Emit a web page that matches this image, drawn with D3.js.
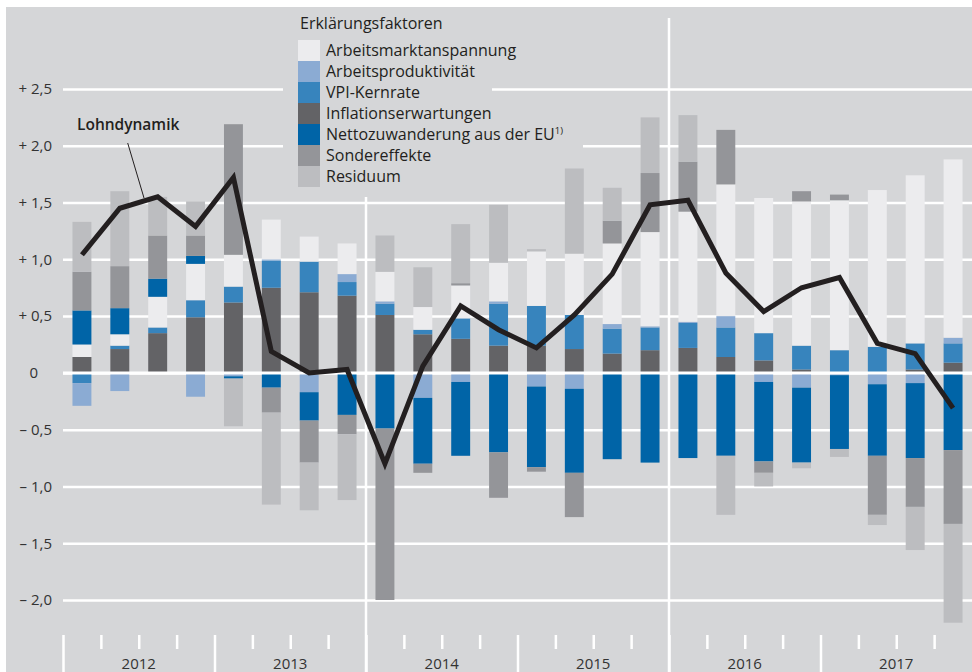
<!DOCTYPE html>
<html>
<head>
<meta charset="utf-8">
<script src="https://cdnjs.cloudflare.com/ajax/libs/d3/7.8.5/d3.min.js"></script>
<style>
  body { margin: 0; background: #fff; }
  svg text { font-family: "Open Sans", "Noto Sans", sans-serif; }
</style>
</head>
<body>
<div id="chart"></div>
<script>
// Data (quarterly contributions, percentage points)
var quarters = ["2012Q1","2012Q2","2012Q3","2012Q4","2013Q1","2013Q2","2013Q3","2013Q4",
  "2014Q1","2014Q2","2014Q3","2014Q4","2015Q1","2015Q2","2015Q3","2015Q4",
  "2016Q1","2016Q2","2016Q3","2016Q4","2017Q1","2017Q2","2017Q3","2017Q4"];
var years = ["2012","2013","2014","2015","2016","2017"];

var inflation    = [0.14, 0.21, 0.35, 0.49, 0.62, 0.75, 0.71, 0.68, 0.51, 0.34, 0.30, 0.24, 0.24, 0.21, 0.17, 0.20, 0.22, 0.14, 0.11, 0.03, 0, 0, 0.03, 0.09];
var vpi          = [-0.09, 0.03, 0.05, 0.15, 0.14, 0.24, 0.27, 0.12, 0.10, 0.04, 0.18, 0.37, 0.35, 0.30, 0.22, 0.20, 0.22, 0.26, 0.24, 0.21, 0.20, 0.23, 0.23, 0.17];
var produktiv    = [-0.20, -0.16, 0, -0.21, -0.03, 0.01, -0.17, 0.07, 0.02, -0.22, -0.08, 0.02, -0.12, -0.14, 0.04, 0.01, 0.01, 0.10, -0.08, -0.13, -0.02, -0.10, -0.09, 0.05];
var arbeitsmarkt = [0.11, 0.10, 0.27, 0.32, 0.28, 0.35, 0.22, 0.27, 0.26, 0.20, 0.29, 0.34, 0.48, 0.54, 0.71, 0.83, 0.97, 1.16, 1.19, 1.27, 1.32, 1.38, 1.48, 1.57];
var netto        = [0.30, 0.23, 0.16, 0.07, -0.02, -0.13, -0.25, -0.37, -0.49, -0.58, -0.65, -0.70, -0.71, -0.74, -0.76, -0.79, -0.75, -0.73, -0.70, -0.66, -0.65, -0.63, -0.66, -0.68];
var sonder       = [0.34, 0.37, 0.38, 0.18, 1.15, -0.22, -0.37, -0.17, -1.51, -0.08, 0.02, -0.40, -0.04, -0.39, 0.20, 0.52, 0.44, 0.48, -0.10, 0.09, 0.05, -0.52, -0.43, -0.65];
var residuum     = [0.44, 0.66, 0.34, 0.30, -0.42, -0.81, -0.42, -0.58, 0.32, 0.35, 0.52, 0.51, 0.02, 0.75, 0.29, 0.49, 0.41, -0.52, -0.12, -0.05, -0.07, -0.09, -0.38, -0.87];
var lohndynamik  = [1.04, 1.45, 1.55, 1.29, 1.72, 0.19, 0.0, 0.03, -0.80, 0.06, 0.59, 0.38, 0.22, 0.51, 0.87, 1.48, 1.52, 0.88, 0.54, 0.75, 0.84, 0.26, 0.17, -0.31];

var yTicks = [-2, -1.5, -1, -0.5, 0, 0.5, 1, 1.5, 2, 2.5];

// stacking order (from zero outward)
var series = [
  {key: "infl",  name: "Inflationserwartungen",       values: inflation,    color: "#636366"},
  {key: "vpi",   name: "VPI-Kernrate",                values: vpi,          color: "#3784bd"},
  {key: "prod",  name: "Arbeitsproduktivität",        values: produktiv,    color: "#8babd3"},
  {key: "markt", name: "Arbeitsmarktanspannung",      values: arbeitsmarkt, color: "#ececee"},
  {key: "netto", name: "Nettozuwanderung aus der EU", values: netto,        color: "#0064a7"},
  {key: "sond",  name: "Sondereffekte",               values: sonder,       color: "#949599"},
  {key: "res",   name: "Residuum",                    values: residuum,     color: "#bcbdc0"}
];
// legend order
var legendKeys = ["markt", "prod", "vpi", "infl", "netto", "sond", "res"];

var svgWidth = 972;
var svgHeight = 672;
var panelColor = "#d5d6d8";

var svg = d3.select("#chart")
  .append("svg")
  .attr("width", svgWidth)
  .attr("height", svgHeight);

// grey panel
svg.append("rect")
  .attr("x", 6).attr("y", 7)
  .attr("width", svgWidth - 6).attr("height", svgHeight - 7)
  .attr("fill", panelColor);

// Scales
var x = d3.scaleBand()
  .domain(quarters)
  .range([63, 972])
  .paddingInner(0.5)
  .paddingOuter(0.25);

var xq = d3.scaleLinear().domain([0, quarters.length]).range([63, 972]);

var y = d3.scaleLinear()
  .domain([-2, 2.5])
  .range([600, 89]);

function fmt(v) {
  if (v === 0) return "0";
  return (v > 0 ? "+ " : "\u2013 ") + Math.abs(v).toFixed(1).replace(".", ",");
}

// gridlines + y labels
var yAxis = svg.append("g")
  .attr("transform", "translate(63,0)")
  .call(d3.axisLeft(y).tickValues(yTicks).tickSize(-(972 - 63)).tickPadding(11).tickFormat(fmt));
yAxis.select(".domain").remove();
yAxis.selectAll("line").attr("stroke", "#fff").attr("stroke-width", 2.5);
yAxis.selectAll("text")
  .attr("fill", "#333")
  .style("font-size", "15px")
  .attr("dx", d => d === 0 ? -14 : 0);

// vertical separators (2014, 2016)
svg.selectAll("line.sep")
  .data([8, 16])
  .enter()
  .append("line")
  .attr("class", "sep")
  .attr("x1", d => xq(d)).attr("x2", d => xq(d))
  .attr("y1", 18).attr("y2", svgHeight)
  .attr("stroke", "#fff").attr("stroke-width", 2.5);

// bottom ticks
var xAxis = svg.append("g")
  .attr("transform", "translate(0,635)")
  .call(d3.axisBottom(xq).tickValues(d3.range(0, 24)).tickSize(14).tickFormat(""));
xAxis.select(".domain").remove();
xAxis.selectAll("line")
  .attr("stroke", "#fff").attr("stroke-width", 2.5)
  .attr("y2", d => d % 4 === 0 ? 40 : 14);

svg.selectAll("text.year")
  .data(years)
  .enter()
  .append("text")
  .attr("class", "year")
  .attr("x", (d, i) => xq(i * 4 + 2))
  .attr("y", 669)
  .attr("text-anchor", "middle")
  .attr("fill", "#333")
  .style("font-size", "15px")
  .text(d => d);

// legend occluders (legend sits on panel colour)
svg.append("rect").attr("x", 283).attr("y", 8).attr("width", 209).attr("height", 189).attr("fill", panelColor);
svg.append("rect").attr("x", 283).attr("y", 110).attr("width", 300).attr("height", 87).attr("fill", panelColor);

// Stacked bars
var rows = quarters.map(function(q, i) {
  var r = {q: q};
  series.forEach(function(s) { r[s.key] = s.values[i]; });
  return r;
});
var stacked = d3.stack()
  .keys(series.map(s => s.key))
  .offset(d3.stackOffsetDiverging)(rows);

var colorOf = {};
series.forEach(function(s) { colorOf[s.key] = s.color; });

svg.append("g")
  .selectAll("g")
  .data(stacked)
  .enter()
  .append("g")
  .attr("fill", d => colorOf[d.key])
  .selectAll("rect")
  .data(d => d)
  .enter()
  .append("rect")
  .attr("x", d => x(d.data.q))
  .attr("y", d => y(Math.max(d[0], d[1])))
  .attr("width", x.bandwidth())
  .attr("height", d => Math.abs(y(d[0]) - y(d[1])));

// zero line on top
svg.append("line")
  .attr("x1", 63).attr("x2", 972)
  .attr("y1", y(0)).attr("y2", y(0))
  .attr("stroke", "#fff").attr("stroke-width", 3);

// Lohndynamik line
var line = d3.line()
  .x((d, i) => x(quarters[i]) + x.bandwidth() / 2)
  .y(d => y(d));

svg.append("path")
  .datum(lohndynamik)
  .attr("d", line)
  .attr("fill", "none")
  .attr("stroke", "#231f20")
  .attr("stroke-width", 5)
  .attr("stroke-linejoin", "miter");

// line label
svg.append("line")
  .attr("x1", 127.7).attr("y1", 143)
  .attr("x2", 144).attr("y2", 198)
  .attr("stroke", "#231f20").attr("stroke-width", 1);
svg.append("text")
  .attr("x", 77).attr("y", 130)
  .attr("fill", "#231f20")
  .style("font-size", "15.5px")
  .style("font-weight", 600)
  .text("Lohndynamik");

// Legend
var legend = svg.append("g").attr("transform", "translate(298,0)");
legend.append("text")
  .attr("x", 2).attr("y", 29)
  .attr("fill", "#231f20")
  .style("font-size", "16px")
  .text("Erklärungsfaktoren");

var items = legend.selectAll("g.item")
  .data(legendKeys.map(k => series.find(s => s.key === k)))
  .enter()
  .append("g")
  .attr("class", "item")
  .attr("transform", (d, i) => `translate(0, ${40 + i * 21})`);
items.append("rect")
  .attr("width", 22).attr("height", 21)
  .attr("fill", d => d.color);
var labels = items.append("text")
  .attr("x", 28).attr("y", 16)
  .attr("fill", "#231f20")
  .style("font-size", "16px")
  .text(d => d.name);
labels.filter(d => d.key === "netto")
  .append("tspan")
  .attr("dy", -6)
  .style("font-size", "9.5px")
  .text("1)");
</script>
</body>
</html>
